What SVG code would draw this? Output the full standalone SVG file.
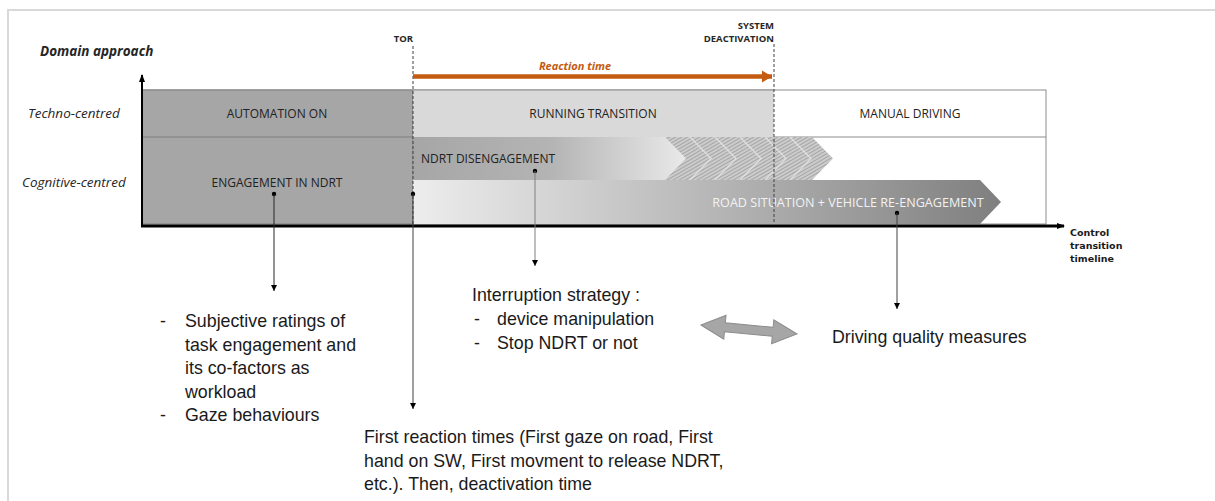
<svg xmlns="http://www.w3.org/2000/svg" width="1215" height="501" viewBox="0 0 1215 501">
<defs>
<style>
.lbl{font-family:"Open Sans","DejaVu Sans",sans-serif;font-size:12px;fill:#222222;text-anchor:middle}
.lbls{font-family:"Open Sans","DejaVu Sans",sans-serif;font-size:12px;fill:#222222;text-anchor:start}
.ax{font-family:"Open Sans","DejaVu Sans",sans-serif;font-style:italic;font-size:13.5px;fill:#262626}
.tiny{font-family:"Open Sans","DejaVu Sans",sans-serif;font-weight:bold;font-size:9.5px;fill:#262626;text-anchor:end}
.ctl{font-family:"DejaVu Sans",sans-serif;font-weight:bold;font-size:9.5px;fill:#1a1a1a}
.body{font-family:"Liberation Sans",Arial,sans-serif;font-size:17.8px;fill:#1a1a1a}
.dash{stroke:#404040;stroke-width:1;stroke-dasharray:3 2;fill:none}
.dot{fill:#000}
</style>
<linearGradient id="gNdrt" gradientUnits="userSpaceOnUse" x1="412" y1="0" x2="690" y2="0">
<stop offset="0" stop-color="#a6a6a6"/>
<stop offset="0.5" stop-color="#b4b4b4"/>
<stop offset="1" stop-color="#ebebeb"/>
</linearGradient>
<linearGradient id="gRoad" gradientUnits="userSpaceOnUse" x1="412" y1="0" x2="1000" y2="0">
<stop offset="0" stop-color="#ededed"/>
<stop offset="0.45" stop-color="#bdbdbd"/>
<stop offset="1" stop-color="#7f7f7f"/>
</linearGradient>
<pattern id="hatch" patternUnits="userSpaceOnUse" width="3" height="3" patternTransform="rotate(60)">
<rect width="3" height="3" fill="#cccccc"/>
<line x1="0" y1="0" x2="0" y2="3" stroke="#8a8a8a" stroke-width="1.2"/>
</pattern>
<marker id="ah" markerWidth="8" markerHeight="8" refX="6" refY="4" orient="auto" markerUnits="userSpaceOnUse">
<path d="M0,1 L6,4 L0,7 Z" fill="#000"/>
</marker>
<marker id="ahAxis" markerWidth="10" markerHeight="10" refX="7" refY="5" orient="auto" markerUnits="userSpaceOnUse">
<path d="M0,2 L8,5 L0,8 Z" fill="#000"/>
</marker>
<marker id="ahOr" markerWidth="12" markerHeight="14" refX="10" refY="7" orient="auto" markerUnits="userSpaceOnUse">
<path d="M0,1 L10,7 L0,13 Z" fill="#c55a11"/>
</marker>
</defs>

<rect x="8" y="10" width="1220" height="500" fill="#ffffff" stroke="#d9d9d9" stroke-width="2"/>

<g id="labels-axis">
<text class="ax" x="40" y="56" font-weight="bold" font-size="11.5px">Domain approach</text>
<text class="ax" x="28" y="118">Techno-centred</text>
<text class="ax" x="22" y="187">Cognitive-centred</text>
<text class="ctl" x="1070" y="236">Control</text>
<text class="ctl" x="1070" y="249">transition</text>
<text class="ctl" x="1070" y="262">timeline</text>
</g>

<g id="node-manual-driving">
<rect x="142" y="90" width="904" height="134" fill="#ffffff" stroke="#8c8c8c" stroke-width="1"/>
<line x1="142" y1="137" x2="1046" y2="137" stroke="#8c8c8c" stroke-width="1"/>
<text class="lbl" x="910" y="117.5">MANUAL DRIVING</text>
</g>

<g id="node-automation-on">
<rect x="142" y="90" width="271" height="134" fill="#a6a6a6" stroke="#7f7f7f" stroke-width="1"/>
<line x1="142" y1="137" x2="413" y2="137" stroke="#7f7f7f" stroke-width="1"/>
<text class="lbl" x="277" y="117.5">AUTOMATION ON</text>
</g>

<g id="node-engagement-ndrt">
<text class="lbl" x="277" y="186.5">ENGAGEMENT IN NDRT</text>
</g>

<g id="node-running-transition">
<rect x="413" y="90" width="361" height="47" fill="#d9d9d9"/>
<line x1="413" y1="90" x2="774" y2="90" stroke="#8c8c8c" stroke-width="1"/>
<text class="lbl" x="593" y="117.5">RUNNING TRANSITION</text>
</g>

<g id="node-ndrt-disengagement">
<rect x="413" y="137" width="278" height="43" fill="url(#gNdrt)"/>
<polygon points="665,137 812,137 833,158.5 812,180 665,180 686,158.5" fill="url(#hatch)"/>
<g fill="none" stroke="#e6e6e6" stroke-width="1.5" opacity="0.8">
<polyline points="690,137 711,158.5 690,180"/>
<polyline points="715,137 736,158.5 715,180"/>
<polyline points="740,137 761,158.5 740,180"/>
<polyline points="765,137 786,158.5 765,180"/>
<polyline points="790,137 811,158.5 790,180"/>
</g>
<text class="lbls" x="421" y="162.5">NDRT DISENGAGEMENT</text>
</g>

<g id="node-road-reengagement">
<polygon points="413,180 980,180 1001,202 980,224 413,224" fill="url(#gRoad)"/>
<text class="lbl" x="848" y="206.5" style="fill:#f2f2f2;font-size:12.6px">ROAD SITUATION + VEHICLE RE-ENGAGEMENT</text>
</g>

<g id="connectors">
<line x1="142" y1="226" x2="142" y2="75" stroke="#000" stroke-width="2" marker-end="url(#ahAxis)"/>
<line x1="141" y1="226" x2="1064" y2="226" stroke="#000" stroke-width="3" marker-end="url(#ahAxis)"/>
<line class="dash" x1="413" y1="46" x2="413" y2="226"/>
<line class="dash" x1="774" y1="44" x2="774" y2="224"/>
<line x1="413" y1="76.5" x2="772" y2="76.5" stroke="#c55a11" stroke-width="4.5" marker-end="url(#ahOr)"/>
<circle class="dot" cx="274" cy="194" r="2.2"/>
<line x1="274" y1="194" x2="274" y2="291" stroke="#262626" stroke-width="1" marker-end="url(#ah)"/>
<circle class="dot" cx="413" cy="194" r="2.2"/>
<line x1="413" y1="194" x2="413" y2="409" stroke="#404040" stroke-width="1" marker-end="url(#ah)"/>
<circle class="dot" cx="535" cy="171" r="2.2"/>
<line x1="535" y1="171" x2="535" y2="266" stroke="#7f7f7f" stroke-width="1" marker-end="url(#ah)"/>
<circle class="dot" cx="897" cy="213" r="2.2"/>
<line x1="897" y1="213" x2="897" y2="309" stroke="#404040" stroke-width="1" marker-end="url(#ah)"/>
<polygon transform="translate(701,325) rotate(5.36)" points="0,0 24,-12 24,-4.5 72,-4.5 72,-12 96.4,0 72,12 72,4.5 24,4.5 24,12" fill="#a6a6a6" stroke="#8c8c8c" stroke-width="1"/>
</g>

<g id="markers-text">
<text class="tiny" x="413" y="42">TOR</text>
<text class="tiny" x="774" y="29">SYSTEM</text>
<text class="tiny" x="774" y="42">DEACTIVATION</text>
<text x="575" y="70" font-family="Open Sans,DejaVu Sans,sans-serif" font-style="italic" font-weight="bold" font-size="11px" fill="#c55a11" text-anchor="middle">Reaction time</text>
</g>

<g id="node-subjective">
<text class="body" x="160" y="327">-</text>
<text class="body" x="185" y="327">Subjective ratings of</text>
<text class="body" x="185" y="350.5">task engagement and</text>
<text class="body" x="185" y="374">its co-factors as</text>
<text class="body" x="185" y="397.5">workload</text>
<text class="body" x="160" y="421">-</text>
<text class="body" x="185" y="421">Gaze behaviours</text>
</g>

<g id="node-interruption">
<text class="body" x="472" y="301">Interruption strategy :</text>
<text class="body" x="474" y="325">-</text>
<text class="body" x="497" y="325">device manipulation</text>
<text class="body" x="474" y="349">-</text>
<text class="body" x="497" y="349">Stop NDRT or not</text>
</g>

<g id="node-driving-quality">
<text class="body" x="832" y="343">Driving quality measures</text>
</g>

<g id="node-first-reaction">
<text class="body" x="364" y="443">First reaction times (First gaze on road, First</text>
<text class="body" x="364" y="467">hand on SW, First movment to release NDRT,</text>
<text class="body" x="364" y="490">etc.). Then, deactivation time</text>
</g>
</svg>
